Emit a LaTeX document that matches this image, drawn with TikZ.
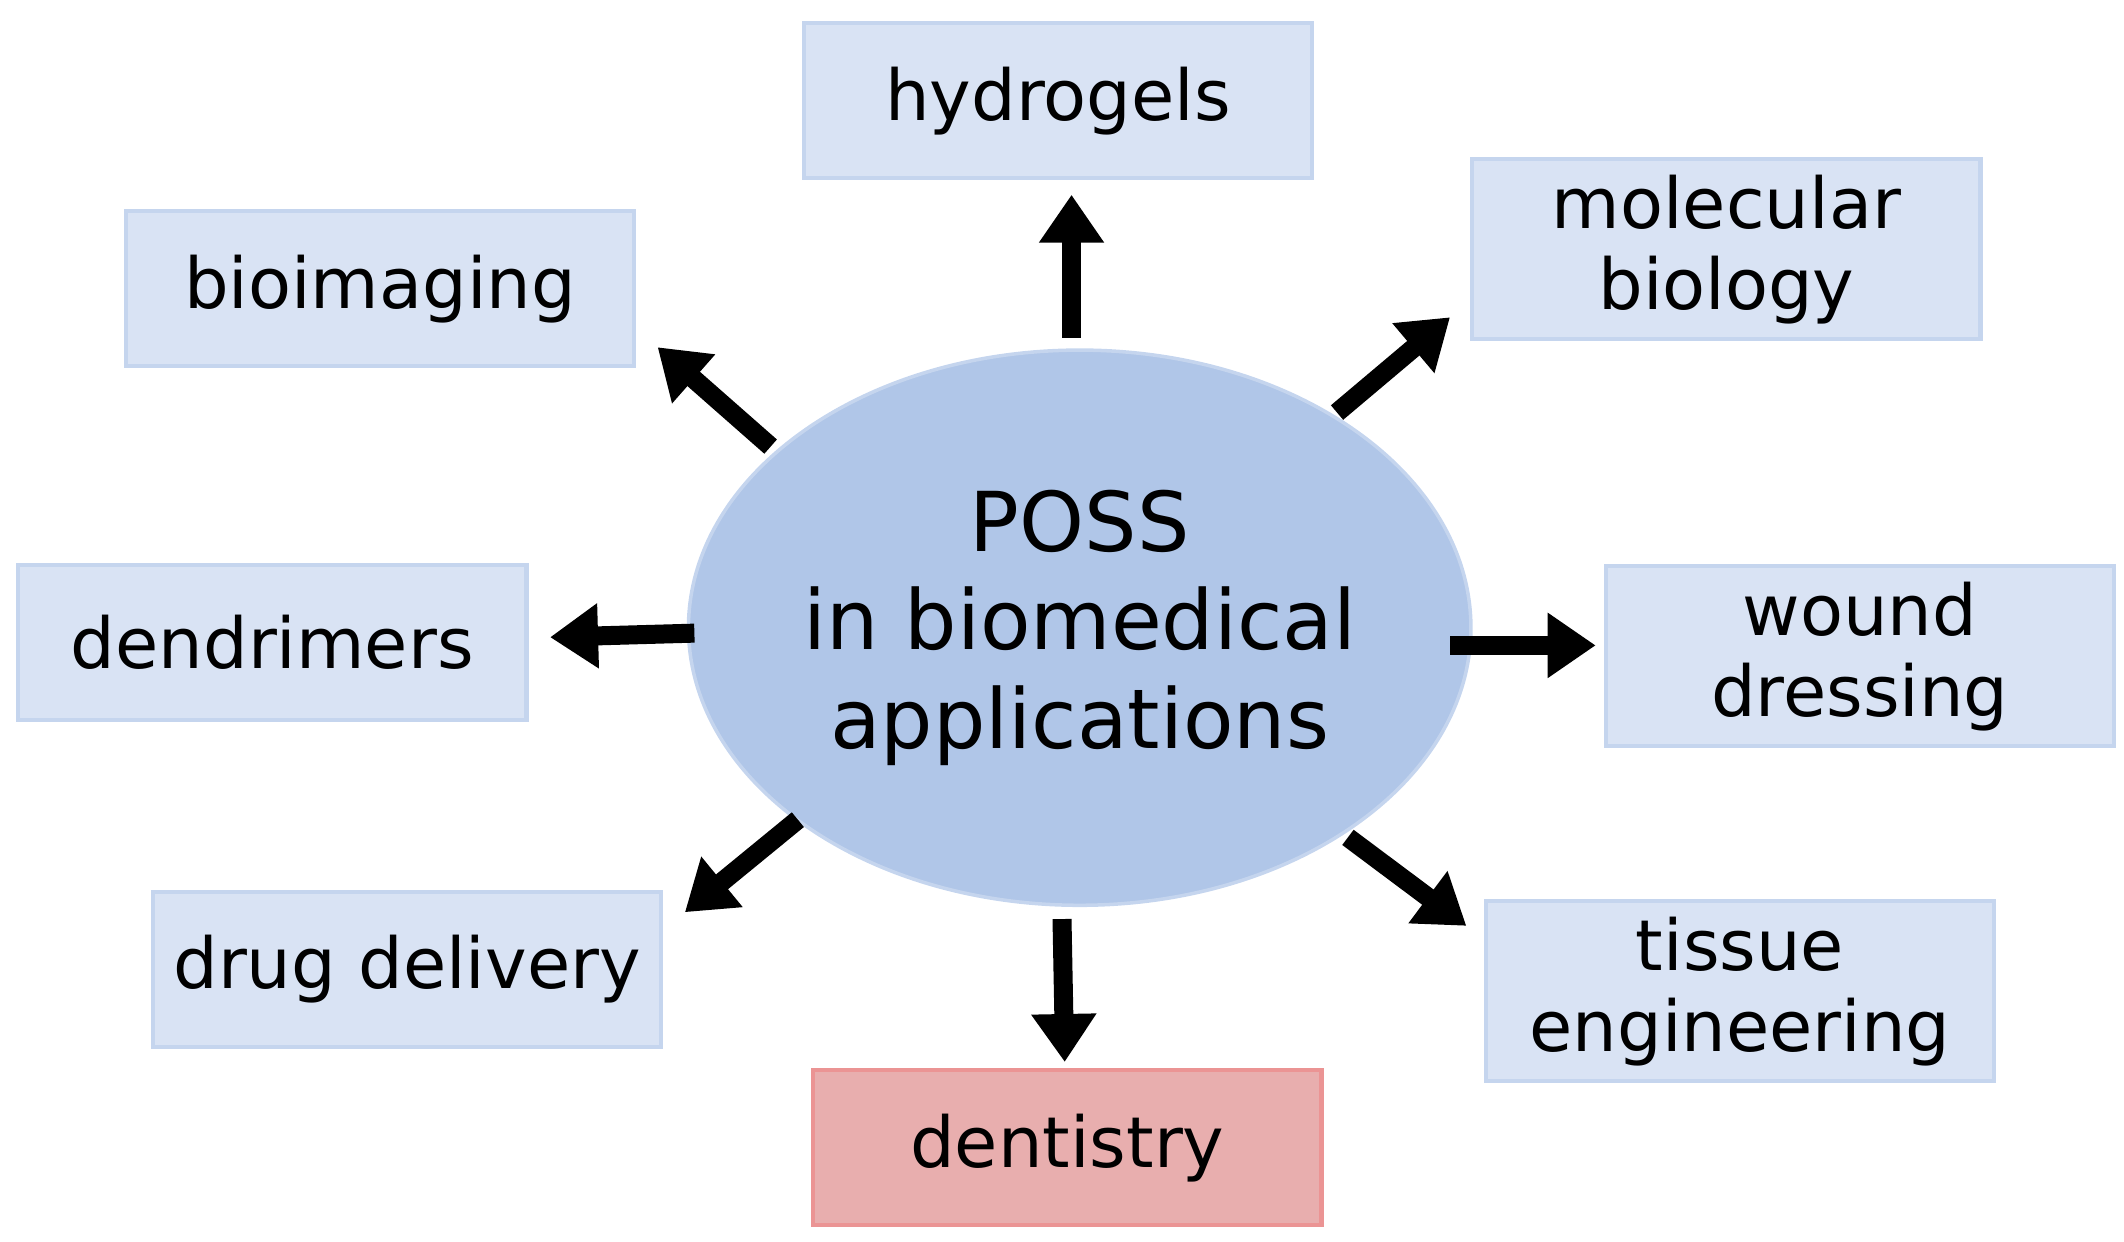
\documentclass[tikz,border=0pt]{standalone}
\usepackage{fontspec}
\setmainfont{DejaVu Sans}
\usetikzlibrary{arrows.meta,shapes.geometric}
\definecolor{boxblue}{HTML}{D9E3F4}
\definecolor{boxline}{HTML}{C5D5EE}
\definecolor{ellblue}{HTML}{B0C6E8}
\definecolor{pinkbox}{HTML}{E8AEAE}
\begin{document}
\begin{tikzpicture}[x=0.013615cm, y=-0.013615cm,
app/.style = {rectangle, fill = boxblue, draw = boxline, line width = 1.2pt, minimum width = 5.08cm, minimum height = 1.55cm, align = center, font = \fontsize{20}{23}\selectfont},
bigarrow/.style = {-{Triangle[width=0.62cm, length=0.48cm]}, line width = 0.19cm}]
\useasboundingbox (0,0) rectangle (1560,912);
\node[ellipse, fill = ellblue, draw = boxline, line width = 1pt, minimum width = 7.2cm, minimum height = 5.55cm, inner sep = 0pt, align = center, font = \fontsize{23.5}{28}\selectfont] (poss) at (793,461) {POSS\\in biomedical\\applications};
\node[app] (hyd) at (777,74) {hydrogels};
\node[app, minimum height = 1.8cm] (mol) at (1268,183) {molecular\\biology};
\node[app] (bio) at (279,212) {bioimaging};
\node[app] (den) at (200,472) {dendrimers};
\node[app, minimum height = 1.8cm] (wou) at (1366,482) {wound\\dressing};
\node[app] (dru) at (299,712) {drug delivery};
\node[app, minimum height = 1.8cm] (tis) at (1278,728) {tissue\\engineering};
\node[app, fill = pinkbox, draw = pinkbox!85!red] (dent) at (784,843) {dentistry};
% arrow ends
\foreach \n/\sx/\sy/\ex/\ey in {hyd/787/248/787/143, mol/982/303/1065/233, bio/566/328/483/255,
  den/510/465/404/468, wou/1065/474/1172/474, dru/586/602/503/670,
  dent/780/675/782/780, tis/990/615/1077/680}{
  \coordinate (\n-s) at (\sx,\sy);
  \coordinate (\n-e) at (\ex,\ey);
  \draw[bigarrow] (\n-s) -- (\n-e);
}
\end{tikzpicture}
\end{document}
